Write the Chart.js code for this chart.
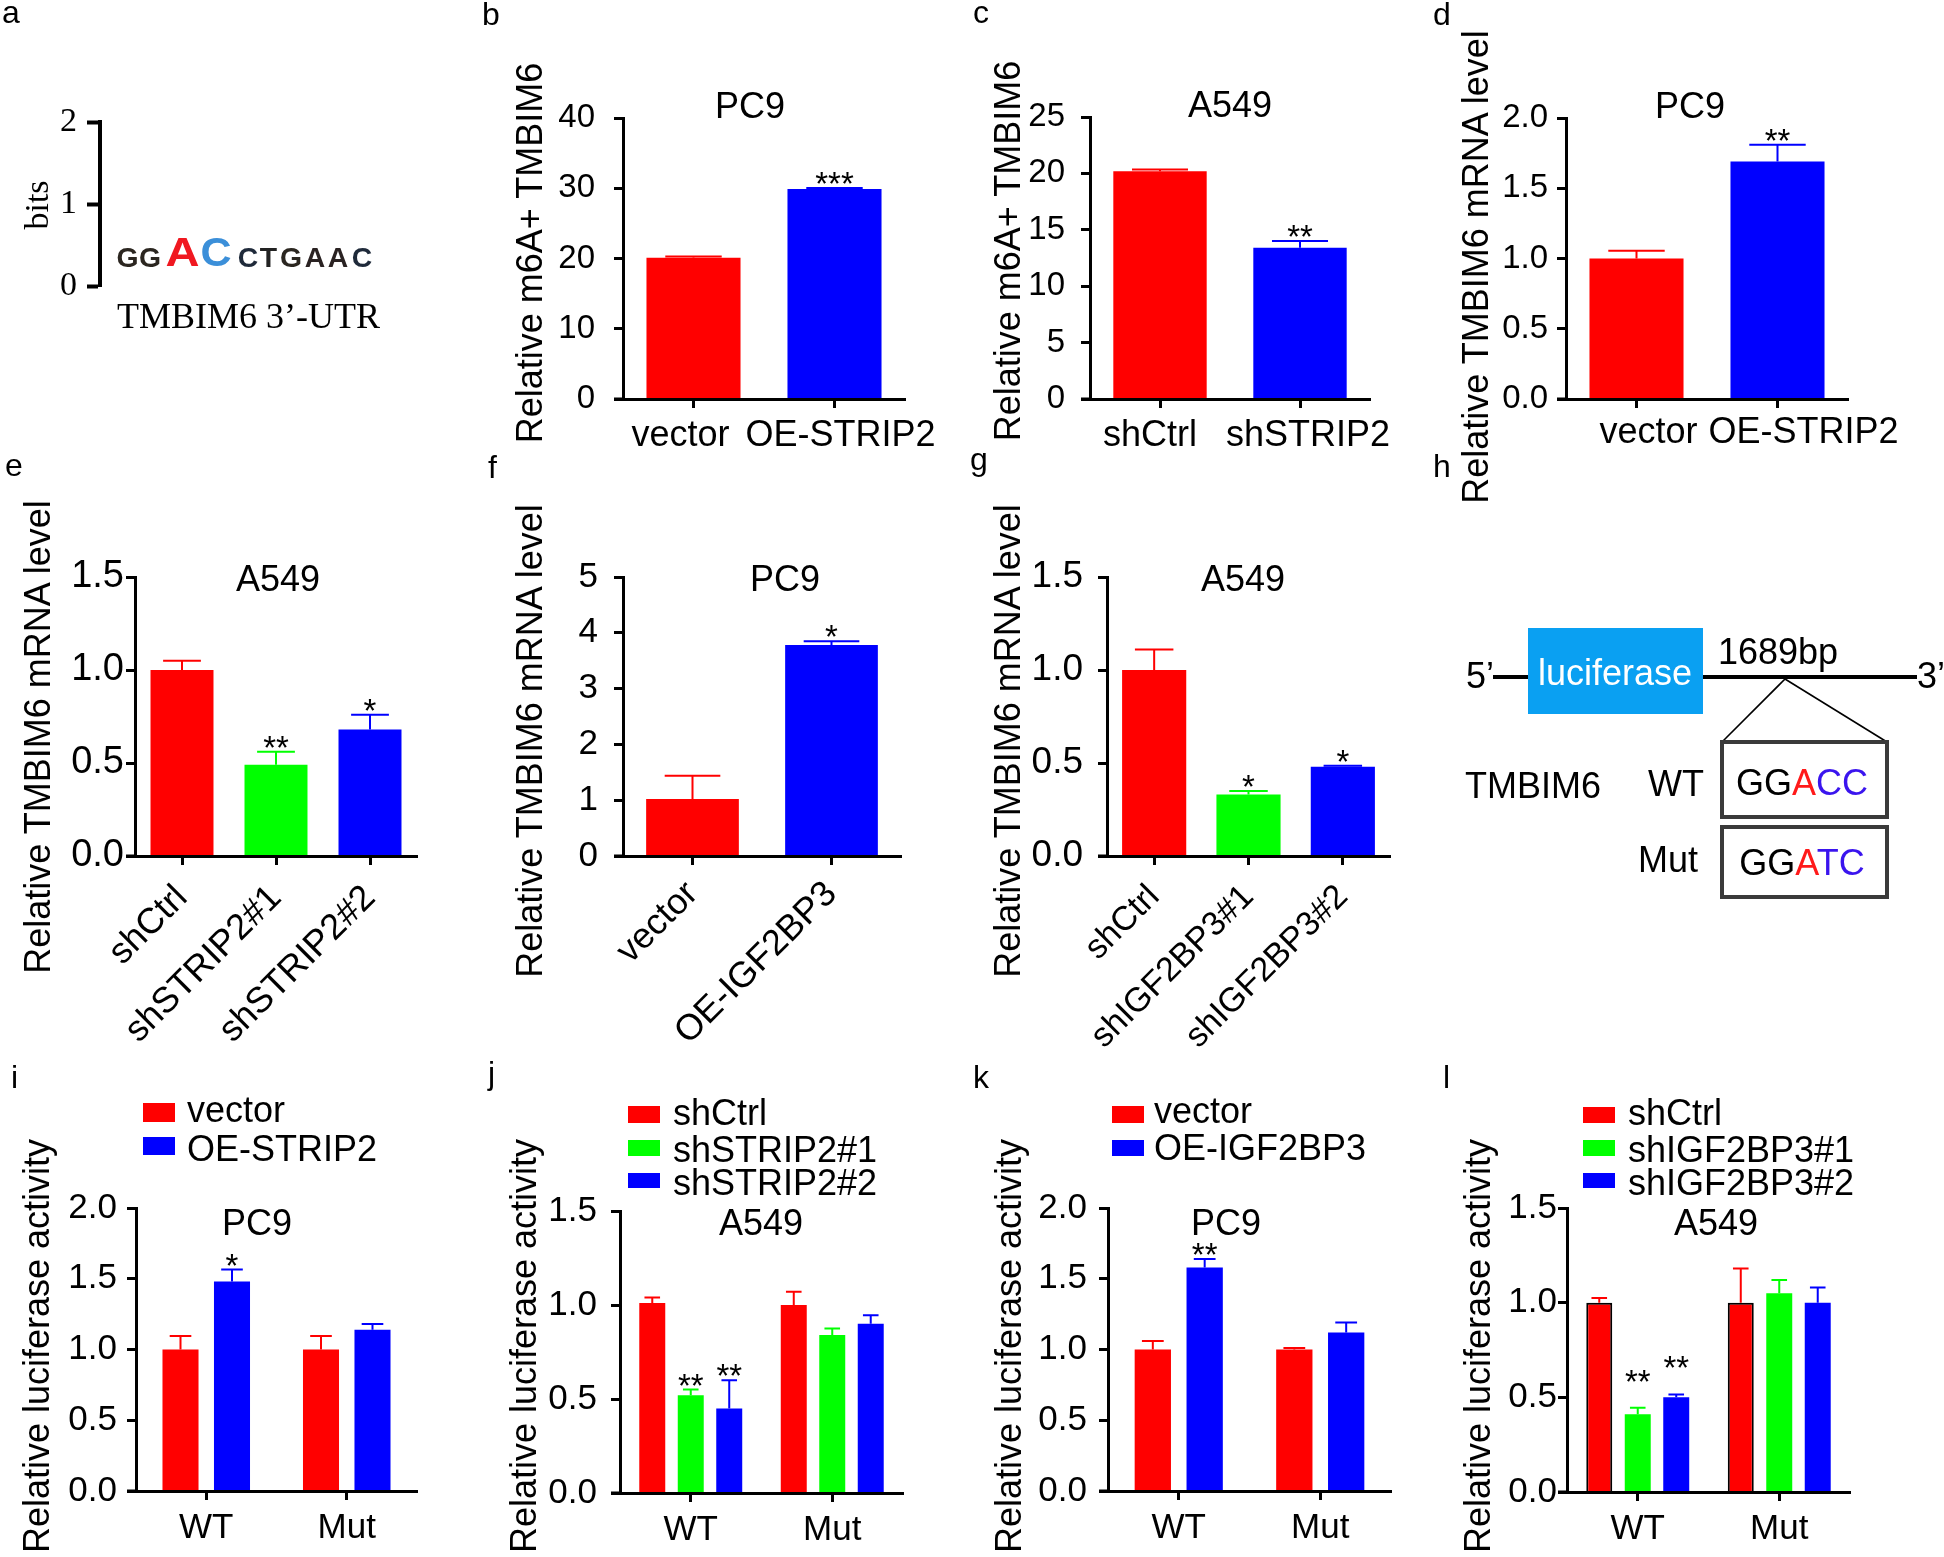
<!DOCTYPE html>
<html>
<head>
<meta charset="utf-8">
<script src="https://cdn.jsdelivr.net/npm/chart.js@4.4.0/dist/chart.umd.min.js"></script>
<style>
body { margin: 0; background: #fff; }
#fig { position: relative; width: 1944px; height: 1557px; overflow: hidden; background: #fff; }
#fig canvas { position: absolute; z-index: 1; }
#overlay { position: absolute; left: 0; top: 0; z-index: 2; pointer-events: none; }
</style>
</head>
<body>
<div id="fig">
<svg id="overlay" width="1944" height="1557" xmlns="http://www.w3.org/2000/svg" font-family="Arial, 'Liberation Sans', sans-serif" fill="#000">
  <!-- panel letters -->
  <g font-size="32">
    <text x="2" y="23">a</text>
    <text x="482" y="25">b</text>
    <text x="973" y="23">c</text>
    <text x="1433" y="25">d</text>
    <text x="5" y="476">e</text>
    <text x="488" y="478">f</text>
    <text x="970" y="470">g</text>
    <text x="1433" y="477">h</text>
    <text x="11" y="1088">i</text>
    <text x="488" y="1084">j</text>
    <text x="973" y="1088">k</text>
    <text x="1443" y="1088">l</text>
  </g>

  <!-- panel a: sequence logo -->
  <text transform="translate(48,205) rotate(-90)" text-anchor="middle" font-size="34" font-family="'Times New Roman', 'Liberation Serif', serif">bits</text>
  <g font-weight="bold" text-anchor="middle">
    <text transform="translate(127.5,267) scale(1.05,1)" font-size="27" fill="#2b2620">G</text>
    <text transform="translate(150,267) scale(1.05,1)" font-size="27" fill="#2b2620">G</text>
    <text transform="translate(182.5,266) scale(1.15,1)" font-size="41" fill="#f01820">A</text>
    <text transform="translate(216,266) scale(1.05,1)" font-size="41" fill="#3b8fd9">C</text>
    <text transform="translate(248,267) scale(1.05,1)" font-size="27" fill="#1f2a3a">C</text>
    <text transform="translate(268.5,267) scale(1.05,1)" font-size="27" fill="#222">T</text>
    <text transform="translate(291,267) scale(1.05,1)" font-size="27" fill="#2b2620">G</text>
    <text transform="translate(315,267) scale(1.05,1)" font-size="27" fill="#2a2222">A</text>
    <text transform="translate(338,267) scale(1.05,1)" font-size="27" fill="#2a2222">A</text>
    <text transform="translate(362,267) scale(1.05,1)" font-size="27" fill="#1f2a3a">C</text>
  </g>
  <text x="117" y="328" font-size="36" font-family="'Times New Roman', 'Liberation Serif', serif">TMBIM6 3’-UTR</text>

  <!-- panel h: reporter construct -->
  <g stroke="#000" fill="none">
    <line x1="1493" y1="677" x2="1528" y2="677" stroke-width="4"/>
    <line x1="1703" y1="677" x2="1917" y2="677" stroke-width="4"/>
    <line x1="1785" y1="679" x2="1722" y2="742" stroke-width="1.6"/>
    <line x1="1785" y1="679" x2="1887" y2="742" stroke-width="1.6"/>
    <rect x="1722" y="742" width="165" height="75" stroke="#3a3a3a" stroke-width="4"/>
    <rect x="1722" y="827" width="165" height="70" stroke="#3a3a3a" stroke-width="4"/>
  </g>
  <rect x="1528" y="628" width="175" height="86" fill="#0aa0f2"/>
  <g font-size="36">
    <text x="1615" y="685" text-anchor="middle" fill="#fff">luciferase</text>
    <text x="1466" y="688">5’</text>
    <text x="1917" y="688">3’</text>
    <text x="1718" y="664">1689bp</text>
    <text x="1802" y="795" text-anchor="middle">GG<tspan fill="#ff1a1a">A</tspan><tspan fill="#3a14ee">CC</tspan></text>
    <text x="1802" y="875" text-anchor="middle">GG<tspan fill="#ff1a1a">A</tspan><tspan fill="#3a14ee">TC</tspan></text>
    <text x="1648" y="796">WT</text>
    <text x="1638" y="872">Mut</text>
    <text x="1465" y="798">TMBIM6</text>
  </g>

  <!-- chart titles -->
  <g font-size="36" text-anchor="middle">
    <text x="750" y="118">PC9</text>
    <text x="1230" y="117">A549</text>
    <text x="1690" y="118">PC9</text>
    <text x="278" y="591">A549</text>
    <text x="785" y="591">PC9</text>
    <text x="1243" y="591">A549</text>
    <text x="257" y="1235">PC9</text>
    <text x="761" y="1235">A549</text>
    <text x="1226" y="1235">PC9</text>
    <text x="1716" y="1235">A549</text>
  </g>

  <!-- y axis titles -->
  <g font-size="36" text-anchor="middle">
    <text transform="translate(542,253) rotate(-90)">Relative m6A+ TMBIM6</text>
    <text transform="translate(1020,251) rotate(-90)">Relative m6A+ TMBIM6</text>
    <text transform="translate(1488,267) rotate(-90)">Relative TMBIM6 mRNA level</text>
    <text transform="translate(50,737) rotate(-90)">Relative TMBIM6 mRNA level</text>
    <text transform="translate(542,741) rotate(-90)">Relative TMBIM6 mRNA level</text>
    <text transform="translate(1020,741) rotate(-90)">Relative TMBIM6 mRNA level</text>
    <text transform="translate(49,1346) rotate(-90)">Relative luciferase activity</text>
    <text transform="translate(536,1346) rotate(-90)">Relative luciferase activity</text>
    <text transform="translate(1021,1346) rotate(-90)">Relative luciferase activity</text>
    <text transform="translate(1490,1346) rotate(-90)">Relative luciferase activity</text>
  </g>
</svg>
</div>
<script>
const FONT = 'Arial, "Liberation Sans", sans-serif';
const SERIF = '"Times New Roman", "Liberation Serif", serif';
const RED = '#ff0000', GREEN = '#00ff00', BLUE = '#0000ff';

// a - logo axis
const aBits = [0, 1, 2];

// b - m6A+ TMBIM6, PC9
const bLabels = ['vector', 'OE-STRIP2'];
const bValues = [20.1, 29.9];
const bErrors = [0.2, 0.15];
const bStars = ['', '***'];

// c - m6A+ TMBIM6, A549
const cLabels = ['shCtrl', 'shSTRIP2'];
const cValues = [20.2, 13.4];
const cErrors = [0.15, 0.6];
const cStars = ['', '**'];

// d - mRNA, PC9
const dLabels = ['vector', 'OE-STRIP2'];
const dValues = [1.0, 1.69];
const dErrors = [0.055, 0.12];
const dStars = ['', '**'];

// e - mRNA, A549
const eLabels = ['shCtrl', 'shSTRIP2#1', 'shSTRIP2#2'];
const eValues = [1.0, 0.49, 0.68];
const eErrors = [0.05, 0.07, 0.08];
const eStars = ['', '**', '*'];

// f - mRNA, PC9
const fLabels = ['vector', 'OE-IGF2BP3'];
const fValues = [1.02, 3.78];
const fErrors = [0.42, 0.07];
const fStars = ['', '*'];

// g - mRNA, A549
const gLabels = ['shCtrl', 'shIGF2BP3#1', 'shIGF2BP3#2'];
const gValues = [1.0, 0.33, 0.48];
const gErrors = [0.11, 0.02, 0.005];
const gStars = ['', '*', '*'];

// i..l - luciferase
const lucGroups = ['WT', 'Mut'];

const iSeries = ['vector', 'OE-STRIP2'];
const iVector = [1.0, 1.0];
const iVectorErr = [0.095, 0.095];
const iOE = [1.48, 1.14];
const iOEErr = [0.085, 0.04];
const iOEStars = ['*', ''];

const jSeries = ['shCtrl', 'shSTRIP2#1', 'shSTRIP2#2'];
const jCtrl = [1.01, 1.0];
const jCtrlErr = [0.03, 0.07];
const jSh1 = [0.52, 0.84];
const jSh1Err = [0.03, 0.035];
const jSh1Stars = ['**', ''];
const jSh2 = [0.45, 0.90];
const jSh2Err = [0.15, 0.045];
const jSh2Stars = ['**', ''];

const kSeries = ['vector', 'OE-IGF2BP3'];
const kVector = [1.0, 1.0];
const kVectorErr = [0.06, 0.01];
const kOE = [1.58, 1.12];
const kOEErr = [0.06, 0.07];
const kOEStars = ['**', ''];

const lSeries = ['shCtrl', 'shIGF2BP3#1', 'shIGF2BP3#2'];
const lCtrl = [1.0, 1.0];
const lCtrlErr = [0.025, 0.18];
const lSh1 = [0.41, 1.05];
const lSh1Err = [0.035, 0.07];
const lSh1Stars = ['**', ''];
const lSh2 = [0.50, 1.0];
const lSh2Err = [0.015, 0.08];
const lSh2Stars = ['**', ''];

const fig = document.getElementById('fig');
const svg = document.getElementById('overlay');
Chart.defaults.font.family = FONT;

/**
 * error bars (upper half only), significance stars, the little
 * stub of the x axis left of the y axis, and optionally the category
 * labels nudged sideways so long names don't run into each other
 */
const barExtras = {
  id: 'barExtras',
  afterDatasetsDraw(chart, args, opts) {
    const ctx = chart.ctx;
    const yS = chart.scales.y;
    const area = chart.chartArea;
    ctx.save();
    ctx.strokeStyle = '#000';
    ctx.lineWidth = 3;
    ctx.beginPath();
    ctx.moveTo(area.left - 9, area.bottom);
    ctx.lineTo(area.left, area.bottom);
    ctx.stroke();
    chart.data.datasets.forEach((ds, di) => {
      const meta = chart.getDatasetMeta(di);
      meta.data.forEach((bar, k) => {
        const col = Array.isArray(ds.backgroundColor) ? ds.backgroundColor[k] : ds.backgroundColor;
        const err = ds.errors ? ds.errors[k] : 0;
        const yTop = yS.getPixelForValue(ds.data[k] + err);
        if (err > 0) {
          const cap = bar.width * 0.3;
          ctx.strokeStyle = col;
          ctx.lineWidth = 2;
          ctx.beginPath();
          ctx.moveTo(bar.x, bar.y);
          ctx.lineTo(bar.x, yTop);
          ctx.moveTo(bar.x - cap, yTop);
          ctx.lineTo(bar.x + cap, yTop);
          ctx.stroke();
        }
        const s = ds.stars ? ds.stars[k] : '';
        if (s) {
          ctx.fillStyle = '#000';
          ctx.font = '33px ' + FONT;
          ctx.textAlign = 'center';
          ctx.textBaseline = 'alphabetic';
          ctx.fillText(s, bar.x, yTop - (opts.lift || 12) + 19);
        }
      });
    });
    if (opts.nudge) {
      const xS = chart.scales.x;
      ctx.fillStyle = '#000';
      ctx.font = opts.labelFont + 'px ' + FONT;
      ctx.textAlign = 'center';
      ctx.textBaseline = 'alphabetic';
      chart.data.labels.forEach((lab, k) => {
        ctx.fillText(lab, xS.getPixelForTick(k) + opts.nudge[k], area.bottom + opts.labelDrop);
      });
    }
    ctx.restore();
  }
};

function addCanvas(L, T, W, H) {
  const cv = document.createElement('canvas');
  cv.width = W;
  cv.height = H;
  cv.style.left = L + 'px';
  cv.style.top = T + 'px';
  fig.insertBefore(cv, svg);
  return cv;
}

// p: axisX / top / zero / right are the plot area edges in page pixels
function makeBarChart(p) {
  const yw = 130, padTop = 45, padRight = 60;
  const L = p.axisX - yw, T = p.top - padTop;
  const cv = addCanvas(L, T, p.right + padRight - L, p.zero + p.below - T);
  return new Chart(cv, {
    type: 'bar',
    data: { labels: p.labels, datasets: p.datasets },
    options: {
      responsive: false,
      animation: false,
      devicePixelRatio: 1,
      events: [],
      layout: { padding: { top: padTop, right: padRight, left: 0, bottom: 0 } },
      plugins: {
        legend: { display: false },
        tooltip: { enabled: false },
        barExtras: { lift: p.lift || 12, nudge: p.nudge, labelFont: p.xFont, labelDrop: p.labelDrop }
      },
      scales: {
        x: {
          offset: true,
          grid: { offset: false, drawOnChartArea: false, tickLength: 9, tickWidth: 3, tickColor: '#000', color: '#000' },
          border: { color: '#000', width: 3, z: 1 },
          ticks: {
            display: !p.nudge,
            autoSkip: false,
            minRotation: p.rot || 0,
            maxRotation: p.rot || 0,
            padding: p.xPad,
            color: '#000',
            font: { size: p.xFont }
          },
          afterFit: s => { s.height = p.below; }
        },
        y: {
          min: 0,
          max: p.max,
          ticks: {
            stepSize: p.step,
            padding: p.yPad,
            color: '#000',
            font: { size: p.yFont },
            callback: v => v.toFixed(p.dec)
          },
          grid: { drawOnChartArea: false, tickLength: 9, tickWidth: 3, tickColor: '#000', color: '#000' },
          border: { color: '#000', width: 3, z: 1 },
          afterFit: s => { s.width = yw; }
        }
      }
    },
    plugins: [barExtras]
  });
}

function addLegend(x, textX, rows, names, colors) {
  rows.forEach((r, k) => {
    const rect = document.createElementNS('http://www.w3.org/2000/svg', 'rect');
    rect.setAttribute('x', x);
    rect.setAttribute('y', r[0]);
    rect.setAttribute('width', 32);
    rect.setAttribute('height', r[1]);
    rect.setAttribute('fill', colors[k]);
    svg.appendChild(rect);
    const t = document.createElementNS('http://www.w3.org/2000/svg', 'text');
    t.setAttribute('x', textX);
    t.setAttribute('y', r[2]);
    t.setAttribute('font-size', 36);
    t.textContent = names[k];
    svg.appendChild(t);
  });
}

// panel a: only the bits axis
(function () {
  const cv = addCanvas(0, 90, 150, 230);
  new Chart(cv, {
    type: 'bar',
    data: { labels: [''], datasets: [] },
    options: {
      responsive: false, animation: false, devicePixelRatio: 1, events: [],
      layout: { padding: { top: 32, bottom: 34, right: 10 } },
      plugins: { legend: { display: false }, tooltip: { enabled: false } },
      scales: {
        x: { display: false },
        y: {
          min: aBits[0], max: aBits[aBits.length - 1],
          ticks: { stepSize: 1, padding: 10, color: '#000', font: { family: SERIF, size: 34 } },
          grid: { drawOnChartArea: false, tickLength: 13, tickWidth: 4, tickColor: '#000', color: '#000' },
          border: { color: '#000', width: 4 },
          afterFit: s => { s.width = 100; }
        }
      }
    }
  });
})();

// top row
makeBarChart({ axisX: 623, top: 118, zero: 399, right: 905, below: 70,
  max: 40, step: 10, dec: 0, yFont: 33, yPad: 19, xFont: 36, nudge: [-13, 6], labelDrop: 47,
  labels: bLabels,
  datasets: [{ data: bValues, errors: bErrors, stars: bStars, backgroundColor: [RED, BLUE],
    borderWidth: 0, barPercentage: 0.667, categoryPercentage: 1 }] });

makeBarChart({ axisX: 1090, top: 117, zero: 399, right: 1370, below: 70,
  max: 25, step: 5, dec: 0, yFont: 33, yPad: 16, xFont: 36, nudge: [-10, 8], labelDrop: 47,
  labels: cLabels,
  datasets: [{ data: cValues, errors: cErrors, stars: cStars, backgroundColor: [RED, BLUE],
    borderWidth: 0, barPercentage: 0.667, categoryPercentage: 1 }] });

makeBarChart({ axisX: 1566, top: 118, zero: 399, right: 1848, below: 70,
  max: 2, step: 0.5, dec: 1, yFont: 33, yPad: 9, xFont: 36, nudge: [12, 26], labelDrop: 44,
  labels: dLabels,
  datasets: [{ data: dValues, errors: dErrors, stars: dStars, backgroundColor: [RED, BLUE],
    borderWidth: 0, barPercentage: 0.667, categoryPercentage: 1 }] });

// middle row
makeBarChart({ axisX: 135, top: 577, zero: 856, right: 417, below: 210,
  max: 1.5, step: 0.5, dec: 1, yFont: 38, yPad: 2, xFont: 36, xPad: 12, rot: 45,
  labels: eLabels,
  datasets: [{ data: eValues, errors: eErrors, stars: eStars, backgroundColor: [RED, GREEN, BLUE],
    borderWidth: 0, barPercentage: 0.67, categoryPercentage: 1 }] });

makeBarChart({ axisX: 623, top: 577, zero: 856, right: 901, below: 210,
  max: 5, step: 1, dec: 0, yFont: 35, yPad: 16, xFont: 36, xPad: 8, rot: 45,
  labels: fLabels,
  datasets: [{ data: fValues, errors: fErrors, stars: fStars, backgroundColor: [RED, BLUE],
    borderWidth: 0, barPercentage: 0.667, categoryPercentage: 1 }] });

makeBarChart({ axisX: 1107, top: 577, zero: 856, right: 1390, below: 210,
  max: 1.5, step: 0.5, dec: 1, yFont: 37, yPad: 15, xFont: 34, xPad: 12, rot: 45,
  labels: gLabels,
  datasets: [{ data: gValues, errors: gErrors, stars: gStars, backgroundColor: [RED, GREEN, BLUE],
    borderWidth: 0, barPercentage: 0.68, categoryPercentage: 1 }] });

// bottom row: luciferase
const two = { borderWidth: 0, barPercentage: 0.70, categoryPercentage: 0.733 };
const three = { borderWidth: 0, barPercentage: 0.675, categoryPercentage: 0.816 };

makeBarChart({ axisX: 136, top: 1208, zero: 1491, right: 417, below: 64,
  max: 2, step: 0.5, dec: 1, yFont: 35, yPad: 10, xFont: 35, xPad: 7,
  labels: lucGroups,
  datasets: [
    Object.assign({ label: iSeries[0], data: iVector, errors: iVectorErr, backgroundColor: RED }, two),
    Object.assign({ label: iSeries[1], data: iOE, errors: iOEErr, stars: iOEStars, backgroundColor: BLUE }, two)
  ] });

makeBarChart({ axisX: 620, top: 1211, zero: 1493, right: 903, below: 62,
  max: 1.5, step: 0.5, dec: 1, yFont: 35, yPad: 14, xFont: 35, xPad: 7,
  labels: lucGroups,
  datasets: [
    Object.assign({ label: jSeries[0], data: jCtrl, errors: jCtrlErr, backgroundColor: RED }, three),
    Object.assign({ label: jSeries[1], data: jSh1, errors: jSh1Err, stars: jSh1Stars, backgroundColor: GREEN }, three),
    Object.assign({ label: jSeries[2], data: jSh2, errors: jSh2Err, stars: jSh2Stars, backgroundColor: BLUE }, three)
  ] });

makeBarChart({ axisX: 1108, top: 1208, zero: 1491, right: 1391, below: 64,
  max: 2, step: 0.5, dec: 1, yFont: 35, yPad: 12, xFont: 35, xPad: 7,
  labels: lucGroups,
  datasets: [
    Object.assign({ label: kSeries[0], data: kVector, errors: kVectorErr, backgroundColor: RED }, two),
    Object.assign({ label: kSeries[1], data: kOE, errors: kOEErr, stars: kOEStars, backgroundColor: BLUE }, two)
  ] });

makeBarChart({ axisX: 1567, top: 1208, zero: 1492, right: 1850, below: 63,
  max: 1.5, step: 0.5, dec: 1, yFont: 35, yPad: 1, xFont: 35, xPad: 7, lift: 34,
  labels: lucGroups,
  datasets: [
    Object.assign({ label: lSeries[0], data: lCtrl, errors: lCtrlErr, backgroundColor: RED }, three,
      { borderColor: '#000', borderWidth: 2 }),
    Object.assign({ label: lSeries[1], data: lSh1, errors: lSh1Err, stars: lSh1Stars, backgroundColor: GREEN }, three),
    Object.assign({ label: lSeries[2], data: lSh2, errors: lSh2Err, stars: lSh2Stars, backgroundColor: BLUE }, three)
  ] });

// legends (box top, box height, text baseline)
addLegend(143, 187, [[1103, 19, 1122], [1137, 18, 1161]], iSeries, [RED, BLUE]);
addLegend(628, 673, [[1106, 17, 1125], [1140, 16, 1162], [1173, 15, 1195]], jSeries, [RED, GREEN, BLUE]);
addLegend(1112, 1154, [[1106, 17, 1123], [1140, 16, 1160]], kSeries, [RED, BLUE]);
addLegend(1583, 1628, [[1107, 16, 1125], [1140, 16, 1162], [1173, 15, 1195]], lSeries, [RED, GREEN, BLUE]);
</script>
</body>
</html>
